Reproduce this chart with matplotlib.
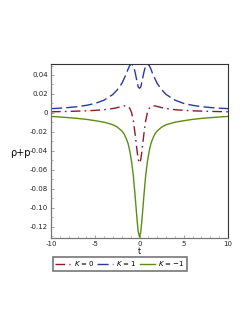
import numpy as np
import matplotlib.pyplot as plt
from matplotlib.ticker import MultipleLocator

plt.rcParams.update({
    "font.family": "DejaVu Sans",
    "font.size": 5,
    "lines.linewidth": 1.0,
})

# values (t from -10 to 10)
t = [-10, -9, -8, -7, -6, -5, -4, -3, -2.5, -2, -1.75, -1.5, -1.3, -1.1, -0.9, -0.7,
     -0.5, -0.3, -0.15, 0, 0.15, 0.3, 0.5, 0.7, 0.9, 1.1, 1.3, 1.5, 1.75, 2, 2.5, 3,
     4, 5, 6, 7, 8, 9, 10]

k0 = [0.0012, 0.0014, 0.0016, 0.0019, 0.0022, 0.0027, 0.0034, 0.0046, 0.0056, 0.0068,
      0.0074, 0.0075, 0.0068, 0.0048, 0.0005, -0.008, -0.022, -0.038, -0.049, -0.053,
      -0.049, -0.038, -0.022, -0.008, 0.0005, 0.0048, 0.0068, 0.0075, 0.0074, 0.0068,
      0.0056, 0.0046, 0.0034, 0.0027, 0.0022, 0.0019, 0.0016, 0.0014, 0.0012]

k1 = [0.0045, 0.0050, 0.0057, 0.0066, 0.0080, 0.0100, 0.0135, 0.0195, 0.0245, 0.031,
      0.036, 0.041, 0.046, 0.0500, 0.0516, 0.0500, 0.043, 0.034, 0.0275, 0.026,
      0.0275, 0.034, 0.043, 0.0500, 0.0516, 0.0500, 0.046, 0.041, 0.036, 0.031,
      0.0245, 0.0195, 0.0135, 0.0100, 0.0080, 0.0066, 0.0057, 0.0050, 0.0045]

km1 = [-0.0037, -0.0043, -0.0050, -0.0058, -0.0068, -0.0082, -0.0098, -0.0125, -0.015, -0.019,
       -0.022, -0.027, -0.032, -0.040, -0.051, -0.066, -0.087, -0.110, -0.125, -0.131,
       -0.125, -0.110, -0.087, -0.066, -0.051, -0.040, -0.032, -0.027, -0.022, -0.019,
       -0.015, -0.0125, -0.0098, -0.0082, -0.0068, -0.0058, -0.0050, -0.0043, -0.0037]

fig = plt.figure(figsize=(2.49, 3.23), dpi=100)
ax = fig.add_axes([0.2048, 0.2632, 0.7109, 0.5387])

ax.plot(t, k0, color="#8c1c2a", dashes=(7, 3, 1.2, 3), label="$K$ = 0")
ax.plot(t, k1, color="#2a3a9a", dashes=(8, 3), label="$K$ = 1")
ax.plot(t, km1, color="#5c8c14", label="$K$ = \u22121")

ax.set_xlim(-10, 10)
ax.set_ylim(-0.1319, 0.0516)

ax.set_xticks([-10, -5, 0, 5, 10])
ax.set_xticklabels(["-10", "-5", "0", "5", "10"])
ax.xaxis.set_minor_locator(MultipleLocator(1))
yt = [0.04, 0.02, 0, -0.02, -0.04, -0.06, -0.08, -0.10, -0.12]
ax.set_yticks(yt)
ax.set_yticklabels(["0.04", "0.02", "0", "-0.02", "-0.04", "-0.06", "-0.08", "-0.10", "-0.12"])
ax.yaxis.set_minor_locator(MultipleLocator(0.01))

ax.tick_params(which="major", direction="in", length=2.5, width=0.5, colors="#777",
               labelcolor="#222", pad=2)
ax.tick_params(which="minor", direction="in", length=1.5, width=0.4, colors="#777")

for side in ["left", "bottom"]:
    ax.spines[side].set_color("#777")
    ax.spines[side].set_linewidth(0.9)
for side in ["top", "right"]:
    ax.spines[side].set_color("#333")
    ax.spines[side].set_linewidth(0.8)

fig.text(20 / 249, 1 - 153 / 323, "\u03c1+p", fontsize=7, ha="center", va="center")
fig.text(139 / 249, 1 - 252 / 323, "t", fontsize=5.5, ha="center", va="center")

leg = fig.legend(loc="center", bbox_to_anchor=(120 / 249, 1 - 264 / 323), ncol=3,
                 fontsize=5, frameon=True, fancybox=False, handlelength=2.2,
                 handletextpad=0.5, columnspacing=0.4, borderpad=0.3)
leg.get_frame().set_edgecolor("#555")
leg.get_frame().set_linewidth(1.2)

fig.savefig("out.png", dpi=100)
